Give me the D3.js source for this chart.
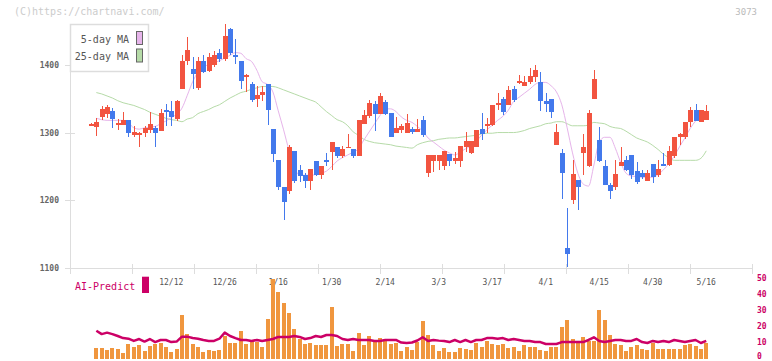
<!DOCTYPE html>
<html><head><meta charset="utf-8">
<script src="https://cdn.jsdelivr.net/npm/d3@7"></script>
<style>body{margin:0;background:#fff}svg{display:block}</style>
</head><body>
<svg id="c" width="772" height="361"></svg>
<script>
// ---- data ----
const xLabels = ["12/12","12/26","1/16","1/30","2/14","3/3","3/17","4/1","4/15","4/30","5/16"];
const xLabelIndex = [15,25,35,45,55,65,75,85,95,105,115];
const yTicks = [1100,1200,1300,1400];
const volTicks = [0,10,20,30,40,50];
const open = [1312,1308,1323,1328,1332,1311,1311,1318,1297,1297,
  1300,1304,1307,1303,1333,1332,1320,1365,1405,1394,
  1366,1406,1391,1399,1418,1408,1453,1415,1406,1382,
  1372,1350,1355,1372,1305,1259,1220,1213,1273,1245,
  1237,1229,1258,1237,1260,1272,1278,1266,1277,1276,
  1266,1313,1325,1342,1328,1345,1329,1300,1304,1300,
  1305,1301,1318,1241,1258,1258,1250,1269,1258,1258,
  1279,1270,1279,1305,1310,1311,1341,1350,1340,1364,
  1373,1369,1375,1382,1375,1347,1350,1281,1270,1130,
  1200,1230,1270,1250,1349,1289,1251,1223,1219,1250,
  1260,1267,1243,1241,1229,1254,1238,1254,1252,1266,
  1293,1294,1316,1333,1315,1318];
const high = [1314,1321,1339,1340,1336,1320,1330,1318,1310,1301,
  1310,1330,1310,1335,1342,1347,1348,1414,1441,1411,
  1411,1414,1417,1420,1424,1460,1455,1438,1406,1387,
  1375,1369,1369,1372,1305,1259,1220,1282,1273,1252,
  1240,1246,1258,1251,1270,1286,1278,1280,1298,1276,
  1318,1333,1348,1346,1358,1348,1329,1323,1313,1327,
  1308,1320,1324,1267,1267,1267,1273,1269,1272,1280,
  1301,1288,1304,1329,1321,1341,1359,1353,1368,1368,
  1385,1383,1395,1400,1389,1358,1350,1313,1276,1189,
  1259,1230,1298,1333,1392,1308,1260,1225,1260,1278,
  1265,1267,1257,1244,1244,1254,1259,1270,1280,1294,
  1300,1316,1338,1342,1333,1341];
const low = [1310,1295,1319,1322,1306,1304,1311,1294,1294,1278,
  1293,1300,1279,1303,1309,1309,1317,1365,1400,1365,
  1363,1388,1389,1397,1404,1406,1414,1401,1365,1360,
  1345,1337,1346,1311,1256,1215,1171,1210,1226,1227,
  1218,1215,1236,1232,1251,1245,1262,1263,1277,1262,
  1266,1313,1322,1303,1328,1326,1293,1300,1300,1300,
  1298,1301,1293,1235,1242,1245,1245,1250,1254,1249,
  1272,1268,1279,1289,1300,1309,1333,1326,1340,1345,
  1372,1369,1372,1375,1332,1330,1321,1281,1202,1102,
  1194,1185,1237,1249,1349,1256,1222,1202,1215,1250,
  1243,1231,1224,1232,1229,1226,1234,1251,1251,1263,
  1281,1290,1308,1317,1315,1318];
const close = [1312,1315,1335,1337,1320,1314,1319,1300,1301,1300,
  1307,1312,1300,1329,1330,1323,1347,1406,1422,1386,
  1406,1390,1411,1415,1408,1443,1418,1411,1376,1385,
  1348,1355,1360,1333,1269,1219,1198,1278,1228,1236,
  1228,1246,1237,1251,1256,1286,1266,1276,1279,1266,
  1318,1326,1344,1328,1354,1328,1294,1307,1310,1314,
  1301,1305,1296,1267,1267,1267,1273,1258,1263,1280,
  1288,1288,1304,1298,1313,1341,1344,1330,1363,1348,
  1376,1375,1383,1392,1347,1342,1331,1301,1241,1121,
  1239,1220,1279,1329,1379,1258,1222,1214,1239,1257,
  1245,1237,1227,1235,1241,1235,1246,1251,1273,1294,
  1298,1316,1333,1317,1333,1332];
const ma5 = [null,1321,1319,1318,1318,1318,1318,1314,1307,1305,
  1307,1308,1309,1313,1317,1322,1327,1336,1355,1375,
  1389,1397,1400,1403,1406,1410,1414,1418,1417,1409,
  1405,1392,1375,1371,1360,1332,1304,1274,1249,1237,
  1237,1237,1238,1240,1243,1250,1258,1263,1267,1271,
  1276,1289,1301,1313,1325,1335,1335,1331,1323,1318,
  1315,1309,1302,1292,1286,1280,1274,1270,1267,1271,
  1276,1280,1287,1296,1304,1311,1318,1324,1333,1346,
  1352,1358,1364,1371,1374,1374,1369,1360,1341,1307,
  1270,1240,1224,1221,1252,1286,1293,1293,1277,1256,
  1240,1236,1235,1234,1234,1234,1238,1245,1254,1265,
  1279,1292,1306,1317,1324,1327];
const ma25 = [null,1359,1357,1354,1351,1347,1344,1342,1340,1337,
  1334,1330,1327,1324,1321,1319,1318,1316,1320,1322,
  1328,1331,1334,1338,1341,1346,1351,1355,1359,1361,
  1364,1366,1368,1368,1368,1366,1363,1360,1357,1354,
  1351,1348,1345,1338,1331,1325,1319,1316,1310,1301,
  1296,1290,1287,1285,1284,1283,1282,1280,1279,1278,
  1277,1282,1285,1287,1288,1290,1291,1292,1292,1293,
  1294,1295,1296,1298,1299,1299,1300,1300,1300,1300,
  1301,1303,1306,1308,1310,1313,1314,1316,1316,1313,
  1310,1310,1310,1311,1315,1314,1313,1309,1307,1306,
  1302,1297,1292,1289,1286,1281,1275,1268,1263,1259,
  1259,1259,1259,1259,1262,1273];
const volume = [null,6.5,6.5,5,6.5,5.5,3,8.8,7,8,
  4.6,7.5,8.8,9.4,7,3.8,5.7,27,15,8.8,
  7,3.8,5,4.6,5,13.8,9.4,9.4,17,8.8,
  11.3,10,7,24.5,49.6,41.4,34.5,28.4,18.2,11.9,
  8.8,9.4,8,8,8,32,7.5,8.8,8.8,4.6,
  15.7,8,13.8,11.3,12.5,11.3,8.8,9.4,4.4,6.7,
  5,10.2,23.2,14.4,8,4.4,6.3,3.8,3.8,6.3,
  5.7,5,9.4,7,10.7,8.8,8,8.8,6.3,7,
  4.4,8,7,7,5,4.4,7,7,19.5,23.8,
  11.9,10.7,13.2,10.7,10.7,30,23.8,14.4,8.8,8,
  4.4,7,8,5.7,5,9.4,5.7,5.7,5.7,5.7,
  5.7,8,8.8,7.5,5.7,9.4];
const aiPredict = [null,17.1,15,15.9,15,13.8,12.5,12.1,10.7,11.9,
  10.3,11.9,10,11.3,11.3,10,10.3,13.4,13.4,12.5,
  12.1,11.3,10.7,10.7,12.1,15.9,13.8,12.5,11.3,11.3,
  10.7,11.3,10.7,11.3,11.9,13.2,13.2,13.2,13.8,13.2,
  11.9,12.5,13.8,13.2,14.4,14.4,13.8,11.9,11.3,11.9,
  11.3,11.3,11.3,10.7,10.7,11.3,11.3,11.3,9.7,9.4,
  9.7,11,13,10.7,11.3,10.9,10.7,10,11.3,10,
  11.3,10,11.3,11.3,12.5,12.5,12.1,12.5,11.3,11.9,
  11.3,10.7,10.7,10,10,8.8,8.8,8.8,10,10,
  10,10,10,11.3,13,10.7,10,10.7,11.3,11.3,
  10.7,10.7,11.9,10,9.4,10.7,10,10.7,10,11.3,
  10.7,10,10.7,11.3,9.4,10.7];

// ---- drawing ----
const svg = d3.select("#c");
const RED = "#f25440", BLUE = "#4379ec", AXIS = "#dddddd";
const mono = "'DejaVu Sans Mono', 'Liberation Mono', monospace";
const n = close.length;
const x = d3.scaleLinear().domain([0, n - 1]).range([91, 706.25]);
const y = d3.scaleLinear().domain([1100, 1400]).range([268.05, 64.8]);
const yv = d3.scaleLinear().domain([0, 50]).range([358, 278.3]);
const grid = d3.scaleLinear().domain([0, 11]).range([70, 752]);

// header
svg.append("text").attr("x", 14).attr("y", 15).attr("font-family", mono).attr("font-size", 10)
  .attr("fill", "#cccccc").text("(C)https://chartnavi.com/");
svg.append("text").attr("x", 757).attr("y", 15).attr("text-anchor", "end").attr("font-family", mono)
  .attr("font-size", 9).attr("fill", "#bbbbbb").text("3073");

// axes
const ax = svg.append("g").attr("shape-rendering", "crispEdges");
ax.append("line").attr("x1", 70.5).attr("x2", 70.5).attr("y1", 24).attr("y2", y(1100)).attr("stroke", AXIS);
ax.append("line").attr("x1", 65).attr("x2", 752).attr("y1", Math.round(y(1100)) + 0.5).attr("y2", Math.round(y(1100)) + 0.5).attr("stroke", AXIS);
ax.selectAll("line.yt").data(yTicks).enter().append("line").attr("class", "yt")
  .attr("x1", 65).attr("x2", 75).attr("y1", d => Math.round(y(d)) + 0.5).attr("y2", d => Math.round(y(d)) + 0.5).attr("stroke", AXIS);
ax.selectAll("line.xt").data(d3.range(0, 12)).enter().append("line").attr("class", "xt")
  .attr("x1", d => Math.round(grid(d)) + 0.5).attr("x2", d => Math.round(grid(d)) + 0.5)
  .attr("y1", 264).attr("y2", 274).attr("stroke", AXIS);
svg.selectAll("text.yl").data(yTicks).enter().append("text").attr("class", "yl")
  .attr("x", 59).attr("y", d => y(d) + 3).attr("text-anchor", "end").attr("font-family", mono)
  .attr("font-size", 8).attr("font-weight", "bold").attr("fill", "#666").text(d => d);
svg.selectAll("text.xl").data(xLabels).enter().append("text").attr("class", "xl")
  .attr("x", (d, i) => x(xLabelIndex[i])).attr("y", 285).attr("text-anchor", "middle").attr("font-family", mono)
  .attr("font-size", 8).attr("fill", "#555").text(d => d);

// moving averages
const idx = d3.range(n);
const lineMA = arr => d3.line().defined(i => arr[i] != null).x(i => x(i)).y(i => y(arr[i])).curve(d3.curveMonotoneX)(idx);
svg.append("path").attr("d", lineMA(ma25)).attr("fill", "none").attr("stroke", "#b6dba8").attr("stroke-width", 1);
svg.append("path").attr("d", lineMA(ma5)).attr("fill", "none").attr("stroke", "#e6b4ea").attr("stroke-width", 1);

// candles
const cg = svg.append("g").attr("shape-rendering", "crispEdges");
const col = i => close[i] >= open[i] ? RED : BLUE;
cg.selectAll("line.w").data(idx).enter().append("line").attr("class", "w")
  .attr("x1", i => Math.round(x(i)) + 0.5).attr("x2", i => Math.round(x(i)) + 0.5)
  .attr("y1", i => y(high[i])).attr("y2", i => y(low[i])).attr("stroke", col);
cg.selectAll("rect.b").data(idx).enter().append("rect").attr("class", "b")
  .attr("x", i => Math.round(x(i)) - 2).attr("width", 5)
  .attr("y", i => y(Math.max(open[i], close[i])))
  .attr("height", i => Math.max(1.5, Math.abs(y(open[i]) - y(close[i]))))
  .attr("fill", col);

// legend
const lg = svg.append("g");
lg.append("rect").attr("x", 70.5).attr("y", 24.5).attr("width", 78).attr("height", 47)
  .attr("fill", "#fff").attr("stroke", "#dddddd").attr("stroke-width", 1.5);
const legendItems = [["5-day MA", "#e6b4ea"], ["25-day MA", "#b6dba8"]];
legendItems.forEach(([t, c], k) => {
  lg.append("text").attr("x", 129).attr("y", 42.5 + k * 17.5).attr("text-anchor", "end")
    .attr("font-family", mono).attr("font-size", 10).attr("fill", "#555").text(t);
  lg.append("rect").attr("x", 136.5).attr("y", 31.5 + k * 17.5).attr("width", 6).attr("height", 13)
    .attr("fill", c).attr("stroke", "#666").attr("stroke-width", 1);
});

// lower panel
const vg = svg.append("g").attr("shape-rendering", "crispEdges");
vg.selectAll("rect.v").data(idx.filter(i => volume[i] != null)).enter().append("rect").attr("class", "v")
  .attr("x", i => Math.round(x(i)) - 2).attr("width", 4)
  .attr("y", i => yv(volume[i])).attr("height", i => yv(0) + 1 - yv(volume[i]))
  .attr("fill", "#f0963e");
svg.append("path").attr("d", d3.line().defined(i => aiPredict[i] != null).x(i => x(i)).y(i => yv(aiPredict[i]))(idx))
  .attr("fill", "none").attr("stroke", "#cc0066").attr("stroke-width", 2.5).attr("stroke-linejoin", "round");
svg.append("text").attr("x", 75).attr("y", 290).attr("font-family", mono).attr("font-size", 10)
  .attr("fill", "#cc0066").text("AI-Predict");
svg.append("rect").attr("x", 142).attr("y", 276.7).attr("width", 7).attr("height", 16.3).attr("fill", "#cc0066");
svg.selectAll("text.vl").data(volTicks).enter().append("text").attr("class", "vl")
  .attr("x", 757).attr("y", d => Math.min(yv(d) + 3, 359)).attr("font-family", mono).attr("font-size", 8)
  .attr("font-weight", "bold").attr("fill", "#cc0066").text(d => d);
</script>
</body></html>
